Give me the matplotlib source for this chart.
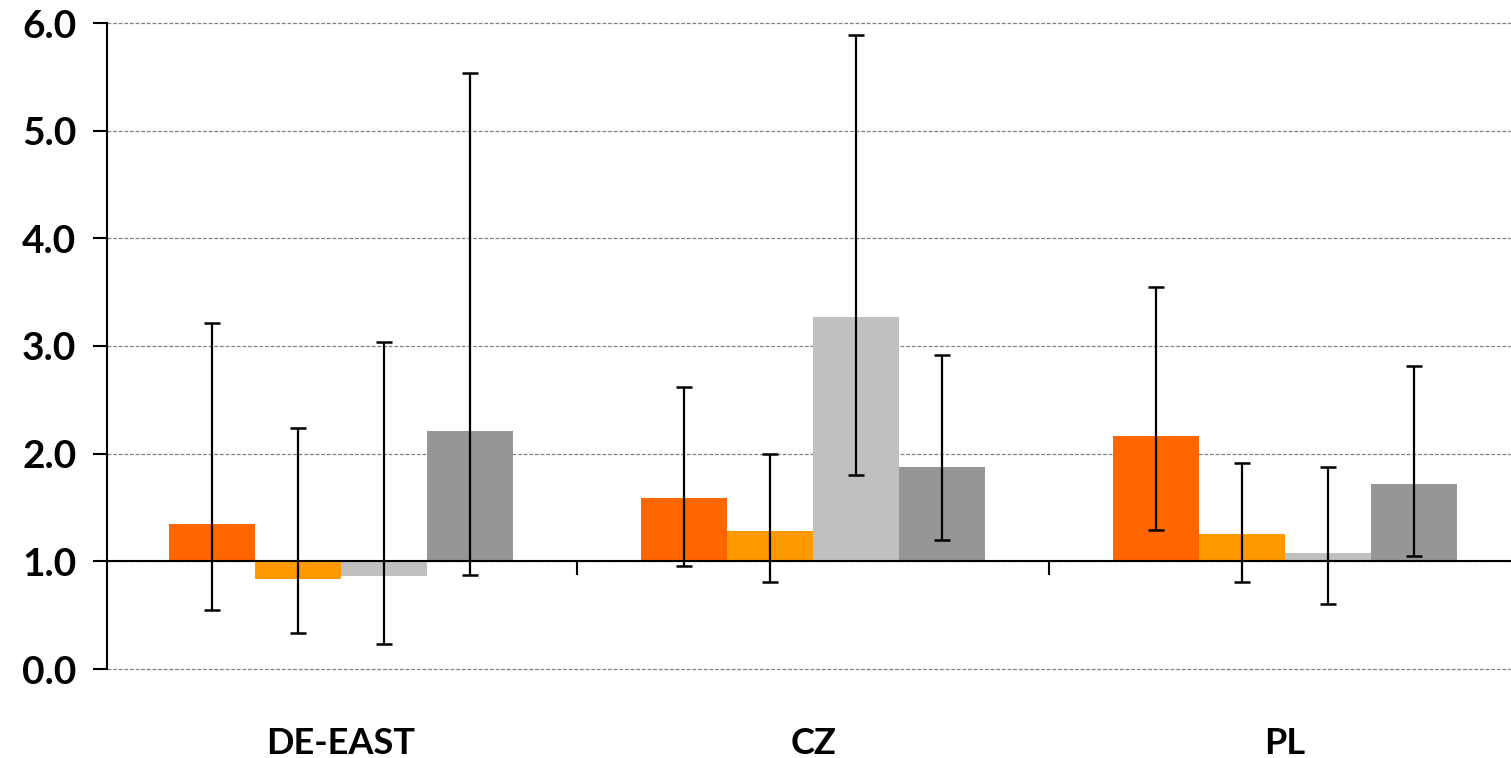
import numpy as np
import matplotlib
matplotlib.use("Agg")
import matplotlib.pyplot as plt

# --- data ---
regions = ["DE-EAST", "CZ", "PL"]
colors = ["#FF6600", "#FF9900", "#C0C0C0", "#969696"]

# bar value per series (bars start at the 1.0 baseline)
vals = [
    [1.35, 1.59, 2.16],
    [0.84, 1.28, 1.25],
    [0.86, 3.27, 1.08],
    [2.21, 1.88, 1.72],
]
# lower / upper ends of the error bars
err_lo = [
    [0.55, 0.96, 1.29],
    [0.33, 0.81, 0.81],
    [0.23, 1.80, 0.60],
    [0.87, 1.20, 1.05],
]
err_hi = [
    [3.21, 2.62, 3.55],
    [2.24, 2.00, 1.91],
    [3.04, 5.89, 1.88],
    [5.54, 2.92, 2.81],
]

baseline = 1.0
plt.rcParams['font.family'] = ['Lato', 'DejaVu Sans']

fig = plt.figure(figsize=(15.11, 7.58), dpi=100)
W, H = 1511, 758
ax = fig.add_axes([107 / W, 1 - 669 / H, 1416 / W, (669 - 23) / H])

x = np.arange(len(regions))
bw = 0.182
for k in range(4):
    v = np.array(vals[k])
    xs = x + (k - 1.5) * bw
    ax.bar(xs, v - baseline, bottom=baseline, width=bw, color=colors[k],
           linewidth=0, zorder=2)
    yerr = [v - np.array(err_lo[k]), np.array(err_hi[k]) - v]
    ax.errorbar(xs, v, yerr=yerr, fmt='none', ecolor='black', elinewidth=1.6,
                capsize=6, capthick=1.8, zorder=4)

ax.set_xlim(-0.496, 2.504)
ax.set_ylim(0, 6)
ax.set_yticks(np.arange(0, 7, 1))
ax.set_yticklabels([f"{t:.1f}" for t in range(7)], fontsize=28, fontweight='bold')
ax.tick_params(axis='y', length=10, width=1.5, pad=12)
ax.yaxis.grid(True, linestyle=(0, (3, 1.5)), color='#808080', linewidth=0.9)
ax.set_axisbelow(True)
for gl in ax.get_ygridlines():
    gl.set_clip_on(False)

# x axis line sits at the 1.0 baseline, ticks mark group borders
ax.spines['bottom'].set_position(('data', baseline))
ax.spines['bottom'].set_linewidth(1.5)
ax.spines['bottom'].set_zorder(3)
ax.spines['left'].set_linewidth(1.5)
ax.spines['top'].set_visible(False)
ax.spines['right'].set_visible(False)
ax.set_xticks([0.5, 1.5])
ax.set_xticklabels([])
ax.tick_params(axis='x', length=10, width=1.5)

for i, r in enumerate(regions):
    ax.text(x[i], -0.69, r, ha='center', va='center', fontsize=26,
            fontweight='bold')

fig.savefig("out.png", dpi=100)
